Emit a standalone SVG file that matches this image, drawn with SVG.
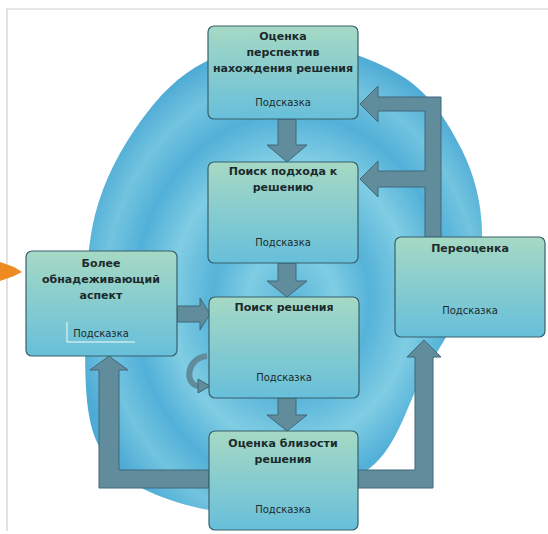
<svg xmlns="http://www.w3.org/2000/svg" width="548" height="534" viewBox="0 0 548 534">
<defs>
<radialGradient id="bg" cx="0.52" cy="0.55" r="0.55">
<stop offset="0" stop-color="#5ab6da"/>
<stop offset="0.2" stop-color="#7fcde3"/>
<stop offset="0.36" stop-color="#56b3d9"/>
<stop offset="0.55" stop-color="#80cde3"/>
<stop offset="0.72" stop-color="#52b0d8"/>
<stop offset="0.86" stop-color="#72c4df"/>
<stop offset="1" stop-color="#4eabd5"/>
</radialGradient>
<linearGradient id="box" x1="0" y1="0" x2="0" y2="1">
<stop offset="0" stop-color="#a6d9c4"/>
<stop offset="1" stop-color="#67bfda"/>
</linearGradient>
<style>
.box{fill:url(#box);stroke:#37606d;stroke-width:1.2}
.arr{fill:#608c9c;stroke:#40677a;stroke-width:1}
.t{font-family:"DejaVu Sans",sans-serif;font-weight:bold;font-size:11px;fill:#1c2a2c;text-anchor:middle}
.h{font-family:"DejaVu Sans",sans-serif;font-size:10px;fill:#1c2a2c;text-anchor:middle}
</style>
</defs>
<rect width="548" height="534" fill="#ffffff"/>
<path d="M7,531 V9 H548" fill="none" stroke="#cfcfcf" stroke-width="1.2"/>
<path fill="url(#bg)" d="M300,42 C333.3,44.7 378,60 405,78 C432,96 449.2,124.7 462,150 C474.8,175.3 481.5,205 482,230 C482.5,255 475,275.3 465,300 C455,324.7 437.8,350 422,378 C406.2,406 397.8,446 370,468 C342.2,490.3 291.7,508 255,512 C218.3,516 176.5,504 150,492 C123.5,480 106.8,465.3 96,440 C85.2,414.7 85.2,377.5 85,340 C84.8,302.5 85.8,251.3 95,215 C104.2,178.7 121.7,147.5 140,122 C158.3,96.5 178.3,75.3 205,62 C231.7,48.7 266.7,39.3 300,42 Z"/>
<polygon points="0,262 14,267 22,272 14,276 0,281" fill="#ee8a22"/>
<g id="connectors">
<path class="arr" d="M441,237 L441,97 L378,97 L378,86 L360,104 L378,122 L378,111 L425,111 L425,171 L378,171 L378,161 L360,179 L378,197 L378,187 L425,187 L425,237 Z"/>
<path class="arr" d="M209,470 L119,470 L119,370 L128,370 L109,356 L90,370 L99,370 L99,488 L209,488 Z"/>
<path class="arr" d="M358,470 L415,470 L415,357 L407,357 L424,340 L441,357 L433,357 L433,488 L358,488 Z"/>
<path class="arr" d="M278,119 L296,119 L296,145 L307,145 L287,162 L267,145 L278,145 Z"/>
<path class="arr" d="M278,263 L296,263 L296,281 L307,281 L287,297 L267,281 L278,281 Z"/>
<path class="arr" d="M278,398 L296,398 L296,415 L307,415 L287,431 L267,415 L278,415 Z"/>
<path class="arr" d="M177,306 L200,306 L200,298 L210,314 L200,330 L200,322 L177,322 Z"/>
<path d="M207,356 C186,358 184,385 199,386" fill="none" stroke="#608c9c" stroke-width="6"/>
<polygon class="arr" points="198,379 210,386 198,393"/>
</g>
<g id="n1">
<rect class="box" x="208" y="26" width="150" height="93" rx="6"/>
<text class="t" x="283" y="40">Оценка</text>
<text class="t" x="283" y="56">перспектив</text>
<text class="t" x="283" y="72">нахождения решения</text>
<text class="h" x="283" y="106">Подсказка</text>
</g>
<g id="n2">
<rect class="box" x="208" y="162" width="150" height="101" rx="6"/>
<text class="t" x="283" y="175">Поиск подхода к</text>
<text class="t" x="283" y="191">решению</text>
<text class="h" x="283" y="246">Подсказка</text>
</g>
<g id="n3">
<rect class="box" x="209" y="297" width="150" height="101" rx="6"/>
<text class="t" x="284" y="311">Поиск решения</text>
<text class="h" x="284" y="381">Подсказка</text>
</g>
<g id="n4">
<rect class="box" x="209" y="431" width="149" height="99" rx="6"/>
<text class="t" x="283" y="447">Оценка близости</text>
<text class="t" x="283" y="463">решения</text>
<text class="h" x="283" y="513">Подсказка</text>
</g>
<g id="n5">
<rect class="box" x="395" y="237" width="150" height="100" rx="6"/>
<text class="t" x="470" y="252">Переоценка</text>
<text class="h" x="470" y="314">Подсказка</text>
</g>
<g id="n6">
<rect class="box" x="26" y="251" width="151" height="105" rx="6"/>
<text class="t" x="101" y="267">Более</text>
<text class="t" x="101" y="283">обнадеживающий</text>
<text class="t" x="101" y="299">аспект</text>
<text class="h" x="101" y="337">Подсказка</text>
<path d="M67,322 V342 H135" fill="none" stroke="#f4fbfb" stroke-width="1"/>
</g>
</svg>
